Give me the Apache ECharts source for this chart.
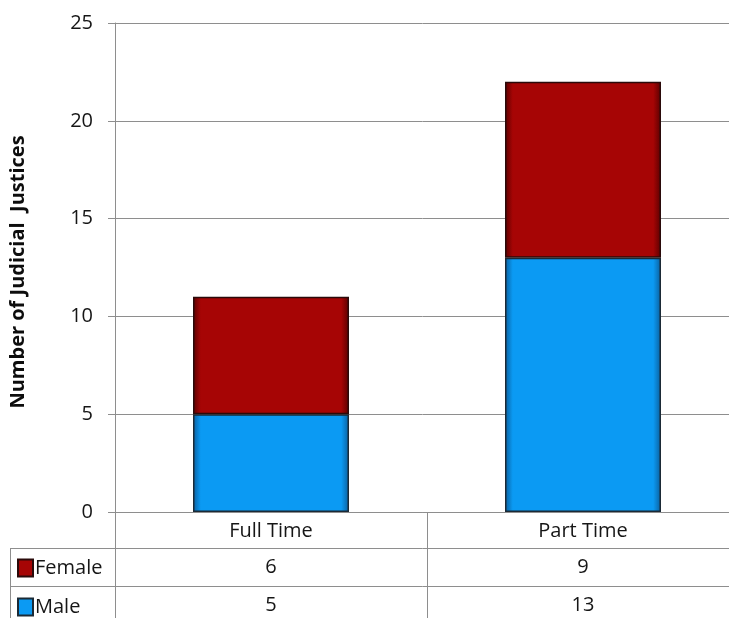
<!DOCTYPE html>
<html>
<head>
<meta charset="utf-8">
<script src="https://cdn.jsdelivr.net/npm/echarts@6/dist/echarts.min.js"></script>
<style>
  html, body { margin: 0; padding: 0; background: #fff; }
  #chart { width: 729px; height: 618px; }
</style>
</head>
<body>
<div id="chart"></div>
<script>
// Judicial justices by employment type, split by gender
const categories = ['Full Time', 'Part Time'];
const femaleValues = [6, 9];
const maleValues = [5, 13];
const yTicks = { min: 0, max: 25, interval: 5 };

const FONT = 'Open Sans';
const TEXT_COLOR = '#161616';
const GRID_COLOR = '#8e8e8e';

function barFill(edge, mid) {
  return new echarts.graphic.LinearGradient(0, 0, 1, 0, [
    { offset: 0, color: edge },
    { offset: 0.05, color: mid },
    { offset: 0.95, color: mid },
    { offset: 1, color: edge }
  ]);
}

const chart = echarts.init(document.getElementById('chart'), null, { renderer: 'canvas' });

// extra category axes below the plot act as the rows of the data table
function tableRowAxis(values, offset, rowHeight) {
  return {
    type: 'category',
    position: 'bottom',
    offset: offset,
    data: values.map(String),
    axisLine: { show: true, lineStyle: { color: GRID_COLOR, width: 1 } },
    axisTick: { show: true, length: rowHeight, lineStyle: { color: GRID_COLOR, width: 1 } },
    axisLabel: { color: TEXT_COLOR, fontSize: 20, fontFamily: FONT, margin: 9 },
    splitLine: { show: false }
  };
}

function legendRow(name, top) {
  return {
    data: [name],
    orient: 'vertical',
    left: 17,
    top: top,
    padding: 0,
    icon: 'rect',
    itemWidth: 15,
    itemHeight: 17,
    selectedMode: false,
    textStyle: { color: TEXT_COLOR, fontSize: 20, fontFamily: FONT, padding: [0, 0, 0, -3] }
  };
}

chart.setOption({
  animation: false,
  backgroundColor: '#ffffff',
  grid: { left: 115, width: 624, top: 23, bottom: 106, containLabel: false, outerBoundsMode: 'none' },
  legend: [legendRow('Female', 558), legendRow('Male', 597)],
  xAxis: [
    {
      type: 'category',
      data: categories,
      axisLine: { show: true, lineStyle: { color: GRID_COLOR, width: 1 } },
      axisTick: { show: true, length: 36, lineStyle: { color: GRID_COLOR, width: 1 } },
      axisLabel: { color: TEXT_COLOR, fontSize: 20, fontFamily: FONT, margin: 9 }
    },
    tableRowAxis(femaleValues, 36, 38),
    tableRowAxis(maleValues, 74, 40)
  ],
  yAxis: {
    type: 'value',
    min: yTicks.min,
    max: yTicks.max,
    interval: yTicks.interval,
    name: 'Number of Judicial  Justices',
    nameLocation: 'middle',
    nameGap: 87,
    nameTextStyle: { color: '#0d0d0d', fontSize: 20, fontWeight: 'bold', fontFamily: FONT, padding: [0, 9, 0, 0] },
    axisLine: { show: true, lineStyle: { color: GRID_COLOR, width: 1 } },
    axisTick: { show: true, length: 7, lineStyle: { color: GRID_COLOR } },
    axisLabel: { color: TEXT_COLOR, fontSize: 20, fontFamily: FONT, margin: 22 },
    splitLine: { show: true, lineStyle: { color: GRID_COLOR, width: 1 } }
  },
  series: [
    {
      name: 'Male',
      type: 'bar',
      stack: 'total',
      xAxisIndex: 0,
      barWidth: '50%',
      data: maleValues,
      itemStyle: {
        color: barFill('#0a5f9e', '#0b9af3'),
        borderColor: '#1b2a36',
        borderWidth: 1.5
      }
    },
    {
      name: 'Female',
      type: 'bar',
      stack: 'total',
      xAxisIndex: 0,
      barWidth: '50%',
      data: femaleValues,
      itemStyle: {
        color: barFill('#5a0000', '#a60505'),
        borderColor: '#2a0a0a',
        borderWidth: 1.5
      }
    }
  ],
  graphic: [
    // left column of the data table
    { type: 'line', shape: { x1: 10, y1: 548.5, x2: 115, y2: 548.5 }, style: { stroke: GRID_COLOR, lineWidth: 1 } },
    { type: 'line', shape: { x1: 10, y1: 586.5, x2: 115, y2: 586.5 }, style: { stroke: GRID_COLOR, lineWidth: 1 } },
    { type: 'line', shape: { x1: 10.5, y1: 548, x2: 10.5, y2: 618 }, style: { stroke: GRID_COLOR, lineWidth: 1 } }
  ]
});
</script>
</body>
</html>
